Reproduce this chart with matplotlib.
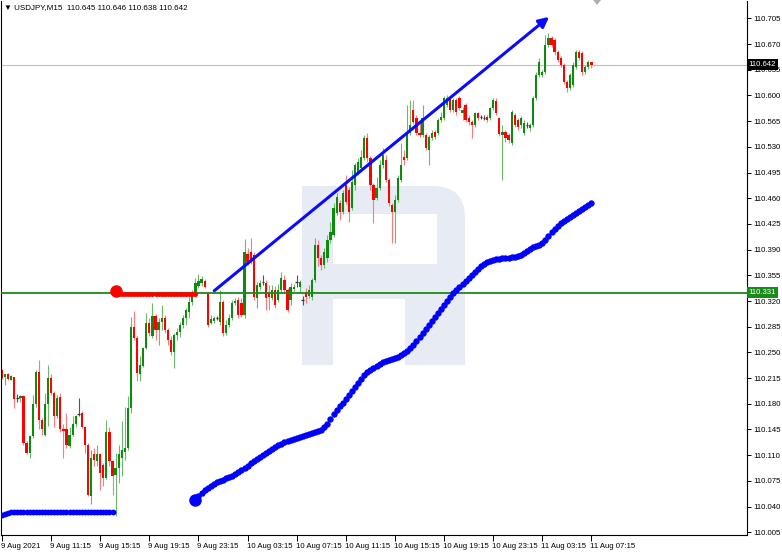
import matplotlib
matplotlib.use("Agg")
import matplotlib.pyplot as plt
from matplotlib.patches import Polygon, PathPatch
from matplotlib.path import Path
import matplotlib.transforms as mtransforms

plt.rcParams['font.family'] = ['Liberation Sans', 'DejaVu Sans']

# ---------------- data (USDJPY M15) ----------------
opens = [110.226,110.217,110.221,110.213,110.216,110.188,110.188,110.191,110.127,110.113,
         110.136,110.180,110.223,110.158,110.138,110.180,110.215,110.195,110.163,110.189,
         110.145,110.145,110.122,110.138,110.152,110.166,110.167,110.149,110.124,110.054,
         110.111,110.102,110.111,110.097,110.079,110.142,110.102,110.083,110.092,110.106,
         110.115,110.120,110.174,110.285,110.270,110.220,110.231,110.256,
         110.290,110.272,110.300,110.281,110.291,110.297,110.281,110.267,110.251,110.274,
         110.278,110.287,110.297,110.305,110.319,110.328,110.340,110.345,110.347,110.331,
         110.290,110.293,110.297,110.291,110.319,110.276,110.287,110.297,110.317,110.321,
         110.317,110.301,110.384,110.387,110.383,110.324,110.339,110.346,110.345,110.332,
         110.324,110.335,110.321,110.335,110.349,110.335,110.321,110.336,110.347,110.339,
         110.321,110.332,110.327,110.325,110.349,110.396,110.379,110.369,110.379,110.403,
         110.410,110.440,110.454,110.441,110.478,110.471,110.447,110.478,110.496,110.501,
         110.515,110.542,110.515,110.478,110.460,110.474,110.505,110.512,110.485,110.451,
         110.441,110.458,110.485,110.516,110.515,110.549,110.580,110.569,110.549,110.546,
         110.546,110.526,110.542,110.550,110.549,110.567,110.569,110.587,
         110.597,110.580,110.594,110.597,110.576,110.587,110.569,110.564,110.560,110.576,
         110.571,110.569,110.571,110.569,110.583,110.592,110.569,110.546,110.550,110.546,
         110.535,110.573,110.567,110.560,110.549,110.560,110.556,110.560,110.597,110.628,
         110.628,110.632,110.669,110.678,110.676,110.659,110.651,110.641,110.618,110.610,
         110.614,110.639,110.659,110.658,110.632,110.639,110.645]
highs = [110.227,110.221,110.222,110.219,110.217,110.194,110.192,110.192,110.129,110.138,
         110.192,110.226,110.240,110.161,110.195,110.233,110.220,110.197,110.192,110.195,
         110.152,110.167,110.149,110.163,110.165,110.188,110.170,110.150,110.126,110.117,
         110.120,110.124,110.113,110.099,110.158,110.149,110.104,110.113,110.124,110.156,
         110.176,110.190,110.298,110.306,110.272,110.245,110.258,110.304,
         110.297,110.317,110.302,110.297,110.315,110.301,110.283,110.272,110.276,110.283,
         110.291,110.301,110.310,110.325,110.335,110.351,110.357,110.354,110.350,110.332,
         110.301,110.300,110.300,110.335,110.321,110.294,110.302,110.321,110.324,110.325,
         110.324,110.404,110.392,110.406,110.387,110.346,110.349,110.355,110.349,110.342,
         110.342,110.340,110.343,110.360,110.355,110.338,110.345,110.343,110.355,110.349,
         110.327,110.338,110.342,110.351,110.406,110.403,110.383,110.392,110.410,110.428,
         110.454,110.467,110.458,110.471,110.492,110.475,110.498,110.508,110.515,110.526,
         110.546,110.549,110.518,110.481,110.489,110.512,110.528,110.519,110.488,110.454,
         110.464,110.492,110.535,110.526,110.587,110.594,110.594,110.573,110.567,110.587,
         110.549,110.546,110.553,110.553,110.569,110.577,110.599,110.601,
         110.599,110.597,110.597,110.599,110.584,110.590,110.573,110.567,110.577,110.577,
         110.573,110.573,110.573,110.584,110.597,110.597,110.571,110.560,110.553,110.549,
         110.580,110.576,110.569,110.572,110.567,110.564,110.562,110.599,110.632,110.651,
         110.635,110.682,110.685,110.681,110.678,110.662,110.654,110.644,110.621,110.631,
         110.646,110.662,110.662,110.661,110.641,110.648,110.646]
lows = [110.214,110.205,110.213,110.212,110.174,110.182,110.182,110.124,110.111,110.106,
        110.133,110.176,110.145,110.137,110.136,110.150,110.192,110.149,110.161,110.141,
        110.106,110.120,110.120,110.136,110.149,110.164,110.147,110.113,110.054,110.044,
        110.095,110.095,110.063,110.068,110.077,110.095,110.056,110.027,110.072,110.081,
        110.104,110.117,110.167,110.267,110.211,110.211,110.230,110.254,
        110.272,110.270,110.267,110.260,110.281,110.276,110.260,110.246,110.229,110.267,
        110.271,110.283,110.287,110.297,110.315,110.325,110.338,110.340,110.338,110.285,
        110.289,110.290,110.294,110.287,110.272,110.274,110.285,110.294,110.315,110.297,
        110.298,110.297,110.369,110.370,110.321,110.310,110.335,110.342,110.308,110.308,
        110.321,110.310,110.319,110.332,110.332,110.305,110.315,110.334,110.339,110.332,
        110.315,110.317,110.324,110.321,110.346,110.368,110.362,110.365,110.373,110.399,
        110.407,110.437,110.430,110.439,110.452,110.428,110.444,110.471,110.492,110.498,
        110.512,110.509,110.471,110.426,110.458,110.471,110.501,110.482,110.449,110.399,
        110.399,110.455,110.482,110.505,110.512,110.546,110.561,110.546,110.543,110.543,
        110.526,110.505,110.539,110.541,110.546,110.564,110.567,110.584,
        110.577,110.577,110.573,110.580,110.567,110.564,110.560,110.542,110.557,110.567,
        110.568,110.567,110.564,110.567,110.580,110.573,110.545,110.485,110.537,110.535,
        110.532,110.557,110.553,110.556,110.546,110.556,110.552,110.557,110.594,110.625,
        110.625,110.629,110.666,110.666,110.655,110.646,110.639,110.616,110.605,110.607,
        110.612,110.636,110.648,110.628,110.629,110.636,110.638]
closes = [110.215,110.220,110.214,110.218,110.186,110.188,110.191,110.127,110.113,110.136,
          110.180,110.223,110.158,110.145,110.180,110.215,110.195,110.163,110.188,110.145,
          110.143,110.124,110.138,110.152,110.163,110.166,110.149,110.124,110.056,110.106,
          110.104,110.111,110.086,110.079,110.142,110.102,110.081,110.092,110.111,110.117,
          110.120,110.174,110.285,110.270,110.222,110.233,110.256,110.290,
          110.276,110.300,110.281,110.291,110.297,110.281,110.267,110.251,110.274,110.278,
          110.287,110.297,110.308,110.319,110.332,110.345,110.347,110.350,110.339,110.287,
          110.296,110.297,110.297,110.319,110.276,110.287,110.297,110.317,110.320,110.301,
          110.301,110.387,110.373,110.373,110.325,110.342,110.345,110.345,110.324,110.325,
          110.335,110.315,110.335,110.351,110.335,110.308,110.339,110.339,110.346,110.346,
          110.322,110.325,110.335,110.349,110.396,110.379,110.369,110.387,110.403,110.414,
          110.447,110.462,110.441,110.467,110.455,110.441,110.482,110.505,110.509,110.516,
          110.542,110.515,110.478,110.458,110.474,110.505,110.519,110.485,110.454,110.441,
          110.458,110.488,110.505,110.512,110.550,110.560,110.564,110.549,110.546,110.569,
          110.528,110.543,110.549,110.543,110.567,110.571,110.597,110.597,
          110.580,110.594,110.577,110.583,110.580,110.567,110.564,110.560,110.576,110.569,
          110.571,110.569,110.567,110.583,110.594,110.576,110.547,110.550,110.542,110.539,
          110.577,110.560,110.557,110.569,110.562,110.560,110.560,110.597,110.628,110.646,
          110.632,110.669,110.678,110.669,110.659,110.648,110.641,110.618,110.610,110.628,
          110.641,110.659,110.651,110.632,110.639,110.646,110.642]

time_labels = ["9 Aug 2021", "9 Aug 11:15", "9 Aug 15:15", "9 Aug 19:15", "9 Aug 23:15",
               "10 Aug 03:15", "10 Aug 07:15", "10 Aug 11:15", "10 Aug 15:15",
               "10 Aug 19:15", "10 Aug 23:15", "11 Aug 03:15", "11 Aug 07:15"]
bars_per_label = 16
price_ticks = [110.005, 110.040, 110.075, 110.110, 110.145, 110.180, 110.215, 110.250,
               110.285, 110.320, 110.355, 110.390, 110.425, 110.460, 110.495, 110.530,
               110.565, 110.600, 110.635, 110.670, 110.705]

# low-level blue dotted line (bars 0..36)
blue_base = [110.029, 110.030, 110.031] + [110.032] * 34
# red dotted level (bars 37..63)
red_level = [110.330] * 27
red_start_dot = 110.334
# rising blue dotted curve (bars 63..192)
blue_curve = [110.049,110.054,110.059,110.063,110.065,110.068,110.071,110.074,110.075,110.076,
              110.079,110.080,110.082,110.084,110.087,110.090,110.093,110.095,110.099,110.102,
              110.105,110.108,110.110,110.113,110.116,110.118,110.121,110.124,110.125,110.128,
              110.129,110.131,110.132,110.134,110.135,110.136,110.138,110.139,110.140,110.142,
              110.143,110.144,110.148,110.153,110.159,110.166,110.172,110.177,110.181,110.187,
              110.192,110.197,110.203,110.208,110.214,110.219,110.223,110.226,110.229,110.231,
              110.234,110.237,110.238,110.240,110.241,110.242,110.244,110.246,110.249,110.252,
              110.256,110.260,110.266,110.271,110.276,110.282,110.287,110.293,110.298,110.304,
              110.309,110.315,110.320,110.325,110.331,110.335,110.339,110.343,110.347,110.351,
              110.355,110.360,110.364,110.368,110.370,110.373,110.375,110.376,110.377,110.377,
              110.379,110.379,110.379,110.380,110.380,110.381,110.383,110.385,110.388,110.391,
              110.394,110.395,110.396,110.399,110.403,110.409,110.414,110.418,110.422,110.426,
              110.429,110.432,110.434,110.437,110.440,110.443,110.445,110.448,110.451,110.454]

support_level = 110.331
bid_price = 110.642
trend_start = (69.15, 110.334)
trend_end = (178.2, 110.707)
header = "\u25BC USDJPY,M15  110.645 110.646 110.638 110.642"

# ---------------- figure ----------------
W, H = 782, 552
fig = plt.figure(figsize=(W / 100, H / 100), dpi=100)
fig.patch.set_facecolor('white')
ax_left, ax_right, ax_top, ax_bot = 1, 747, 1, 535
ax = fig.add_axes([ax_left / W, (H - ax_bot) / H, (ax_right - ax_left) / W, (ax_bot - ax_top) / H])
ax.set_facecolor('white')

n = len(opens)
x0_px, px_per_bar = 2.0, 3.07
ax.set_xlim((ax_left - x0_px) / px_per_bar, (ax_right - x0_px) / px_per_bar)
ax.set_ylim(110.0013, 110.7286)

# watermark logo (pixel coords -> figure)
def px(pts):
    return [(x / W, 1 - y / H) for x, y in pts]

logo_col = '#e7ecf4'
outer = [(302, 365), (302, 186), (433, 186), (465, 186), (465, 218), (465, 365),
         (405, 365), (405, 299), (333, 299), (333, 365), (302, 365)]
outer_codes = [Path.MOVETO, Path.LINETO, Path.LINETO, Path.CURVE3, Path.CURVE3,
               Path.LINETO, Path.LINETO, Path.LINETO, Path.LINETO, Path.LINETO, Path.CLOSEPOLY]
hole = [(333, 214), (333, 264), (437, 264), (437, 214), (333, 214)]
hole_codes = [Path.MOVETO, Path.LINETO, Path.LINETO, Path.LINETO, Path.CLOSEPOLY]
path = Path(px(outer) + px(hole), outer_codes + hole_codes)
ax.add_patch(PathPatch(path, facecolor=logo_col, edgecolor='none', transform=fig.transFigure, zorder=0))

# grey bid line, green level
ax.axhline(bid_price, color='#c0c0c0', lw=0.8, zorder=1)
ax.axhline(support_level, color='#1a8a1a', lw=1.3, zorder=3)

# candles
xs = list(range(n))
green_body, red_body = '#0e8a0e', '#ff0000'
green_wick, red_wick = '#6cb86c', '#ff7a7a'
min_h = 0.0012
for i in xs:
    o, h, l, c = opens[i], highs[i], lows[i], closes[i]
    if abs(c - o) < 0.0015:
        ax.vlines(i, l, h, color='#555555', lw=0.8, zorder=2)
        ax.hlines((o + c) / 2, i - 0.45, i + 0.45, color='#333333', lw=0.9, zorder=2)
        continue
    bull = c > o
    ax.vlines(i, l, h, color=green_wick if bull else red_wick, lw=0.8, zorder=2)
    b0, b1 = min(o, c), max(o, c)
    ax.bar(i, max(b1 - b0, min_h), bottom=b0, width=0.72,
           color=green_body if bull else red_body, linewidth=0, zorder=2)

# dotted indicator lines
ax.plot(range(0, len(blue_base)), blue_base, 'o', color='#0000ff', ms=4.2, mew=0, zorder=4)
r0 = len(blue_base)
ax.plot(range(r0, r0 + len(red_level)), red_level, 'o', color='#ff0000', ms=3.6, mew=0, zorder=4)
ax.plot([r0], [red_start_dot], 'o', color='#ff0000', ms=9, mew=0, zorder=5)
b0i = n - len(blue_curve)
ax.plot(range(b0i, n), blue_curve, 'o', color='#0000ff', ms=4.6, mew=0, zorder=4)
ax.plot([b0i], [blue_curve[0]], 'o', color='#0000ff', ms=9, mew=0, zorder=5)

# trend arrow
ax.annotate('', xy=trend_end, xytext=trend_start,
            arrowprops=dict(arrowstyle='-|>', color='#0a0aff', lw=2.2, mutation_scale=15,
                            shrinkA=0, shrinkB=0), zorder=6)

# axes styling
ax.spines['top'].set_visible(False)
for s in ['left', 'bottom', 'right']:
    ax.spines[s].set_color('#000000')
    ax.spines[s].set_linewidth(0.8)

ax.yaxis.tick_right()
ax.set_yticks(price_ticks)
ax.set_yticklabels([f"{p:.3f}" for p in price_ticks])
ax.tick_params(axis='y', direction='out', length=3, width=0.7, pad=1.5, labelsize=5.6, colors='#000000')

ticks = [k * bars_per_label for k in range(len(time_labels))]
ax.set_xticks(ticks)
ax.set_xticklabels(time_labels)
ax.tick_params(axis='x', direction='out', length=4, width=0.7, pad=1.5, labelsize=5.6)
offset = mtransforms.ScaledTranslation(-1 / 100, 0, fig.dpi_scale_trans)
for lab in ax.get_xticklabels():
    lab.set_horizontalalignment('left')
    lab.set_transform(lab.get_transform() + offset)

# price labels on the right axis
trans = mtransforms.blended_transform_factory(ax.transAxes, ax.transData)
ax.text(1.002, support_level, f"{support_level:.3f}", transform=trans, fontsize=5.6, color='white',
        va='center', ha='left', zorder=10, clip_on=False,
        bbox=dict(boxstyle='square,pad=0.25', fc='#1a8a1a', ec='none'))
ax.text(1.002, bid_price, f"{bid_price:.3f}", transform=trans, fontsize=5.6, color='white',
        va='center', ha='left', zorder=10, clip_on=False,
        bbox=dict(boxstyle='square,pad=0.25', fc='#000000', ec='none'))

# header text
fig.text(4 / W, 1 - 8 / H, header, fontsize=5.8, color='#000000', va='center', ha='left')

# small shift marker at top
tri = Polygon(px([(593, 0), (601, 0), (597, 5)]), closed=True, transform=fig.transFigure,
              facecolor='#b0b0b0', edgecolor='none')
fig.patches.append(tri)

fig.savefig('out.png', dpi=100, facecolor='white')
